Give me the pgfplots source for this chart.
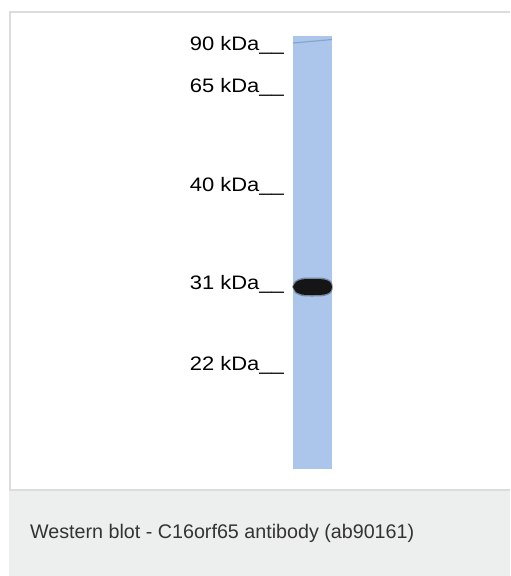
\documentclass[border=0pt]{standalone}
\usepackage{pgfplots}
\pgfplotsset{compat=1.18}
\usepackage{fontspec}
\setmainfont{Liberation Sans}
\definecolor{lane}{HTML}{ABC6EA}
\definecolor{lanedark}{HTML}{7E9CC6}
\definecolor{bandc}{HTML}{151515}
\definecolor{border}{HTML}{DCDCDC}
\definecolor{capbg}{HTML}{EDEFEE}
\definecolor{captxt}{HTML}{333333}
\newcommand{\mk}[1]{\scalebox{1.126}[1]{\fontsize{19.5}{22}\selectfont #1}}
\begin{document}
\begin{tikzpicture}
\begin{axis}[
  width=510pt, height=576pt, scale only axis,
  xmin=0, xmax=510, ymin=0, ymax=576, y dir=reverse,
  axis lines=none, ticks=none, clip=false,
]
% background panels
\addplot[fill=white, draw=none] coordinates {(0,0) (510,0) (510,576) (0,576)} -- cycle;
\addplot[fill=capbg, draw=none] coordinates {(9,490) (510,490) (510,576) (9,576)} -- cycle;
\addplot[draw=border, line width=2pt] coordinates {(510,12) (10,12) (10,490) (510,490)};
% lane
\addplot[fill=lane, draw=none] coordinates {(293,36) (332,36) (332,469) (293,469)} -- cycle;
\addplot[draw=lanedark, line width=1.2pt, opacity=0.8] coordinates {(293,43) (310,41.5) (332,39.5)};
% band at ~29 kDa
\addplot[fill=bandc, draw=none, smooth, opacity=0.35] coordinates {(292,287) (295,281) (302,278) (312,277.5) (324,278) (331,281) (333,287) (331,293) (324,296) (312,296.5) (302,296) (295,293)} -- cycle;
\addplot[fill=bandc, draw=none, smooth] coordinates {(293,287) (296,282) (302,279.5) (312,279) (324,279.5) (330,282) (332,287) (330,292) (324,294.5) (312,295) (302,294.5) (296,292)} -- cycle;
% marker labels
\node[anchor=base east, inner sep=0pt] at (axis cs:284,50) {\mk{90 kDa\_\_}};
\node[anchor=base east, inner sep=0pt] at (axis cs:284,92) {\mk{65 kDa\_\_}};
\node[anchor=base east, inner sep=0pt] at (axis cs:284,191) {\mk{40 kDa\_\_}};
\node[anchor=base east, inner sep=0pt] at (axis cs:284,289) {\mk{31 kDa\_\_}};
\node[anchor=base east, inner sep=0pt] at (axis cs:284,370) {\mk{22 kDa\_\_}};
% caption
\node[anchor=base west, font=\fontsize{19.7}{22}\selectfont, text=captxt, inner sep=0pt] at (axis cs:30,538) {Western blot - C16orf65 antibody (ab90161)};
\end{axis}
\end{tikzpicture}
\end{document}
